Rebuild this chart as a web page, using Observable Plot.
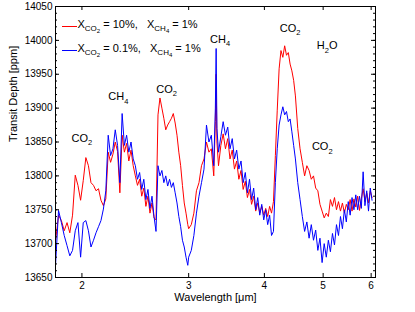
<!DOCTYPE html>
<html><head><meta charset="utf-8">
<script src="https://cdn.jsdelivr.net/npm/d3@7"></script>
<script src="https://cdn.jsdelivr.net/npm/@observablehq/plot@0.6"></script>
<style>
body{margin:0;background:#fff}
svg{font-family:"Liberation Sans",Arial,Helvetica,sans-serif}
</style>
</head><body><div id="chart"></div>
<script>
// ---------------- data ----------------
const wavelength = [
1.81,1.83,1.85,1.87,1.89,1.91,1.93,1.95,1.97,1.99,
2.01,2.03,2.05,2.07,2.09,2.11,2.13,2.15,2.17,2.19,
2.21,2.23,2.25,2.27,2.29,2.31,2.33,2.35,2.37,2.39,
2.41,2.43,2.45,2.47,2.49,2.51,2.53,2.55,2.57,2.59,
2.61,2.63,2.65,2.67,2.69,2.71,2.73,2.75,2.77,2.79,
2.81,2.83,2.85,2.87,2.89,2.91,2.93,2.95,2.97,2.99,
3.00,3.03,3.06,3.09,3.12,3.15,3.18,3.21,3.24,3.27,
3.30,3.32,3.33,3.34,3.36,3.39,3.42,3.45,3.48,3.51,
3.54,3.57,3.60,3.63,3.66,3.69,3.72,3.75,3.78,3.81,
3.84,3.87,3.90,3.93,3.96,3.99,4.02,4.05,4.08,4.11,
4.14,4.17,4.20,4.23,4.26,4.29,4.32,4.35,4.38,4.41,
4.44,4.47,4.50,4.54,4.58,4.62,4.66,4.70,4.74,4.78,
4.82,4.86,4.90,4.94,4.98,5.02,5.06,5.10,5.14,5.18,
5.22,5.26,5.30,5.34,5.38,5.42,5.46,5.50,5.54,5.58,
5.62,5.66,5.70,5.74,5.78,5.82,5.86,5.90,5.94,5.98,
6.02];

// X_CO2 = 10%, X_CH4 = 1%  (red)
const depthCO2high = [
13705,13742,13734,13719,13731,13716,13742,13801,13786,13764,
13793,13827,13815,13790,13786,13778,13781,13764,13756,13766,
13835,13820,13832,13850,13836,13775,13860,13835,13848,13822,
13838,13815,13800,13786,13795,13770,13782,13755,13770,13745,
13760,13738,13735,13890,13915,13900,13885,13868,13875,13880,
13885,13892,13878,13860,13835,13815,13786,13760,13745,13728,
13722,13728,13745,13778,13790,13815,13825,13850,13835,13840,
13800,13880,13950,13850,13815,13845,13862,13840,13855,13825,
13838,13810,13822,13795,13808,13780,13792,13768,13780,13758,
13770,13748,13760,13745,13755,13742,13752,13740,13755,13745,
13762,13830,13897,13958,13985,13975,13992,13978,13982,13965,
13955,13941,13918,13870,13840,13820,13800,13815,13808,13795,
13800,13782,13778,13758,13748,13738,13745,13740,13765,13755,
13768,13750,13762,13748,13760,13745,13758,13750,13765,13748,
13766,13754,13770,13749,13766,13781,13762,13775,13760,13778,
13768];

// X_CO2 = 0.1%, X_CH4 = 1%  (blue)
const depthCO2low = [
13671,13749,13731,13712,13697,13682,13690,13719,13731,13680,
13731,13734,13719,13695,13705,13716,13725,13734,13751,13778,
13860,13830,13840,13868,13845,13790,13892,13845,13860,13835,
13850,13825,13815,13795,13805,13780,13795,13765,13780,13752,
13770,13740,13718,13815,13800,13808,13790,13800,13785,13795,
13783,13790,13775,13760,13740,13725,13705,13695,13680,13668,
13680,13690,13712,13745,13770,13790,13810,13875,13850,13860,
13815,13900,13988,13870,13835,13858,13880,13860,13872,13840,
13855,13825,13838,13810,13822,13790,13805,13775,13795,13765,
13782,13750,13768,13742,13758,13735,13750,13728,13742,13712,
13718,13790,13840,13875,13890,13902,13890,13895,13880,13884,
13865,13845,13825,13790,13765,13740,13718,13732,13708,13728,
13705,13720,13690,13708,13672,13700,13680,13705,13688,13715,
13698,13728,13712,13740,13722,13750,13732,13762,13742,13768,
13750,13772,13750,13770,13752,13806,13756,13778,13748,13782,
13764];

const xTicks = [2, 3, 4, 5, 6];
const yTicks = [13650, 13700, 13750, 13800, 13850, 13900, 13950, 14000, 14050];
const yMinorTicks = d3.range(13650, 14051, 10);

// band annotations (left baseline position in data units)
const annLam  = [1.926, 2.215, 2.657, 3.26, 4.25, 4.89, 4.80];
const annPpm  = [13850, 13911, 13922, 13996, 14012, 13986, 13837];
const annMain = ["CO", "CH", "CO", "CH", "CO", "H", "CO"];
const annSub  = ["2", "4", "2", "4", "2", "2", "2"];
const annTail = ["", "", "", "", "", "O", ""];

// legend
const legendColors = ["#ff0000", "#0000ff"];
const legendCO2 = ["10%", "0.1%"];
const legendCH4 = ["1%", "1%"];

// ---------------- chart ----------------
const W = 415, H = 312, mL = 55, mR = 40, mT = 6, mB = 35;
const innerW = W - mL - mR, innerH = H - mT - mB;
const rows = vals => wavelength.map((w, i) => ({w, v: vals[i]}));

const plot = Plot.plot({
  width: W, height: H,
  marginLeft: mL, marginRight: mR, marginTop: mT, marginBottom: mB,
  style: {background: "#fff", color: "#000", fontSize: "10px", fontFamily: "'Liberation Sans', Arial, sans-serif"},
  x: {type: "log", domain: [1.809, 6.10]},
  y: {domain: [13650, 14050]},
  marks: [
    Plot.line(rows(depthCO2high), {x: "w", y: "v", stroke: "#ff0000", strokeWidth: 1}),
    Plot.line(rows(depthCO2low), {x: "w", y: "v", stroke: "#0000ff", strokeWidth: 1}),
    Plot.tickX(xTicks, {x: d => d, insetTop: innerH - 4, stroke: "#000"}),
    Plot.tickX(xTicks, {x: d => d, insetBottom: innerH - 4, stroke: "#000"}),
    Plot.tickY(yTicks, {y: d => d, insetRight: innerW - 4, stroke: "#000"}),
    Plot.tickY(yTicks, {y: d => d, insetLeft: innerW - 4, stroke: "#000"}),
    Plot.tickY(yMinorTicks, {y: d => d, insetRight: innerW - 2, stroke: "#000"}),
    Plot.tickY(yMinorTicks, {y: d => d, insetLeft: innerW - 2, stroke: "#000"}),
    Plot.frame({stroke: "#000", strokeWidth: 1}),
    Plot.axisX(xTicks, {tickSize: 0, tickPadding: 4, tickFormat: d => String(d), label: null, fontSize: 10}),
    Plot.axisY(yTicks, {tickSize: 0, tickPadding: 3, tickFormat: d => String(d), label: null, fontSize: 10}),
    Plot.text(["Wavelength [μm]"], {frameAnchor: "bottom", lineAnchor: "middle", dy: 20, fontSize: 11}),
    Plot.text(["Transit Depth [ppm]"], {frameAnchor: "left", dx: -42, rotate: -90, fontSize: 11})
  ]
});

const svg = d3.select(plot);
const sx = plot.scale("x"), sy = plot.scale("y");

// annotations with subscripts
annLam.forEach((lam, i) => {
  const t = svg.append("text")
    .attr("x", sx.apply(lam)).attr("y", sy.apply(annPpm[i]))
    .attr("text-anchor", "start")
    .attr("font-size", 11).attr("fill", "#000");
  t.append("tspan").text(annMain[i]);
  t.append("tspan").attr("font-size", 7.5).attr("dy", 3.5).text(annSub[i]);
  if (annTail[i]) t.append("tspan").attr("dy", -3.5).text(annTail[i]);
});

// legend
const legY = [26, 50];
legendColors.forEach((c, i) => {
  const y = legY[i];
  svg.append("line").attr("x1", 62).attr("x2", 77).attr("y1", y + 0.5).attr("y2", y + 0.5)
    .attr("stroke", c).attr("stroke-width", 1);
  const t = svg.append("text").attr("x", 77.5).attr("y", y + 1.5)
    .attr("text-anchor", "start")
    .attr("font-size", 11).attr("fill", "#000")
    .attr("xml:space", "preserve");
  t.append("tspan").text("X");
  t.append("tspan").attr("font-size", 8).attr("dy", 3).text("CO");
  t.append("tspan").attr("font-size", 6).attr("dy", 2).text("2");
  t.append("tspan").attr("dy", -5).text(" = " + legendCO2[i] + ",   X");
  t.append("tspan").attr("font-size", 8).attr("dy", 3).text("CH");
  t.append("tspan").attr("font-size", 6).attr("dy", 2).text("4");
  t.append("tspan").attr("dy", -5).text(" = " + legendCH4[i]);
});

document.getElementById("chart").appendChild(plot);
</script>
</body></html>
